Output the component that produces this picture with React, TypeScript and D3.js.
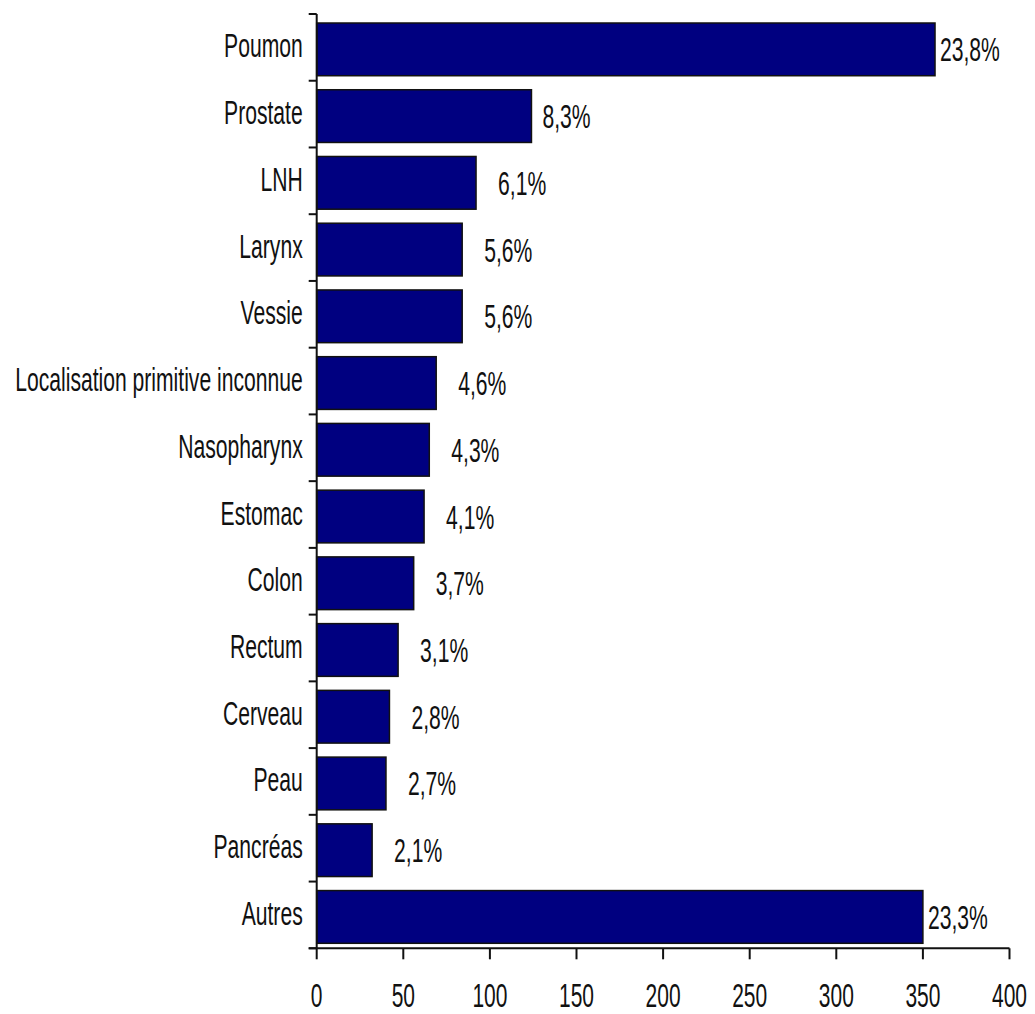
import React from "react";
import * as d3 from "d3";

const categories = [
  "Poumon",
  "Prostate",
  "LNH",
  "Larynx",
  "Vessie",
  "Localisation primitive inconnue",
  "Nasopharynx",
  "Estomac",
  "Colon",
  "Rectum",
  "Cerveau",
  "Peau",
  "Pancréas",
  "Autres",
];
const values = [357, 124, 92, 84, 84, 69, 65, 62, 56, 47, 42, 40, 32, 350];
const percentLabels = [
  "23,8%", "8,3%", "6,1%", "5,6%", "5,6%", "4,6%", "4,3%", "4,1%",
  "3,7%", "3,1%", "2,8%", "2,7%", "2,1%", "23,3%",
];
const xTicks = [0, 50, 100, 150, 200, 250, 300, 350, 400];

const W = 1035;
const H = 1014;
const left = 316.7;
const right = 1009.5;
const top = 14;
const bottom = 948.3;
const FS = 33;
const SX = 0.64;
const FONT = "'Liberation Sans', Arial, Helvetica, sans-serif";

function SText({
  x, y, anchor, children, fs = FS, sx = SX, sy = 1,
}: { x: number; y: number; anchor: string; children: React.ReactNode; fs?: number; sx?: number; sy?: number }) {
  return (
    <text
      transform={`translate(${x},${y}) scale(${sx},${sy})`}
      textAnchor={anchor}
      fontSize={fs}
      fontFamily={FONT}
      fill="#111"
    >
      {children}
    </text>
  );
}

export default function App() {
  const x = d3.scaleLinear().domain([0, 400]).range([left, right]);
  const y = d3
    .scaleBand<string>()
    .domain(categories)
    .range([top, bottom])
    .paddingInner(0.21)
    .paddingOuter(0.105);
  const step = y.step();
  const bandEdges = d3.range(categories.length + 1).map((i) => top + i * step);

  return (
    <svg width={W} height={H} style={{ position: "absolute", left: 0, top: 0, background: "#fff" }}>
      {categories.map((c, i) => {
        const by = (y(c) as number) + 2;
        const bh = y.bandwidth();
        const v = values[i];
        const gap = v > 300 ? 5 : v > 100 ? 11 : 22;
        return (
          <g key={c}>
            <rect
              x={x(0)}
              y={by}
              width={x(v) - x(0)}
              height={bh}
              fill="#000080"
              stroke="#111"
              strokeWidth={1.5}
            />
            <SText x={x(v) + gap} y={by + bh / 2 + 12} anchor="start">
              {percentLabels[i]}
            </SText>
            <SText x={left - 14} y={by + bh / 2 + 8} anchor="end">
              {c}
            </SText>
          </g>
        );
      })}
      <line x1={left} x2={left} y1={top} y2={bottom} stroke="#111" strokeWidth={2} />
      {bandEdges.map((e, i) => (
        <line key={i} x1={left - 8} x2={left} y1={e} y2={e} stroke="#111" strokeWidth={2} />
      ))}
      <line x1={left - 8} x2={right} y1={bottom} y2={bottom} stroke="#111" strokeWidth={2} />
      {xTicks.map((t) => (
        <g key={t}>
          <line x1={x(t)} x2={x(t)} y1={bottom} y2={bottom + 11} stroke="#111" strokeWidth={2} />
          <SText x={x(t)} y={1006.5} anchor="middle" fs={30} sx={0.7} sy={1.1}>
            {t}
          </SText>
        </g>
      ))}
    </svg>
  );
}
